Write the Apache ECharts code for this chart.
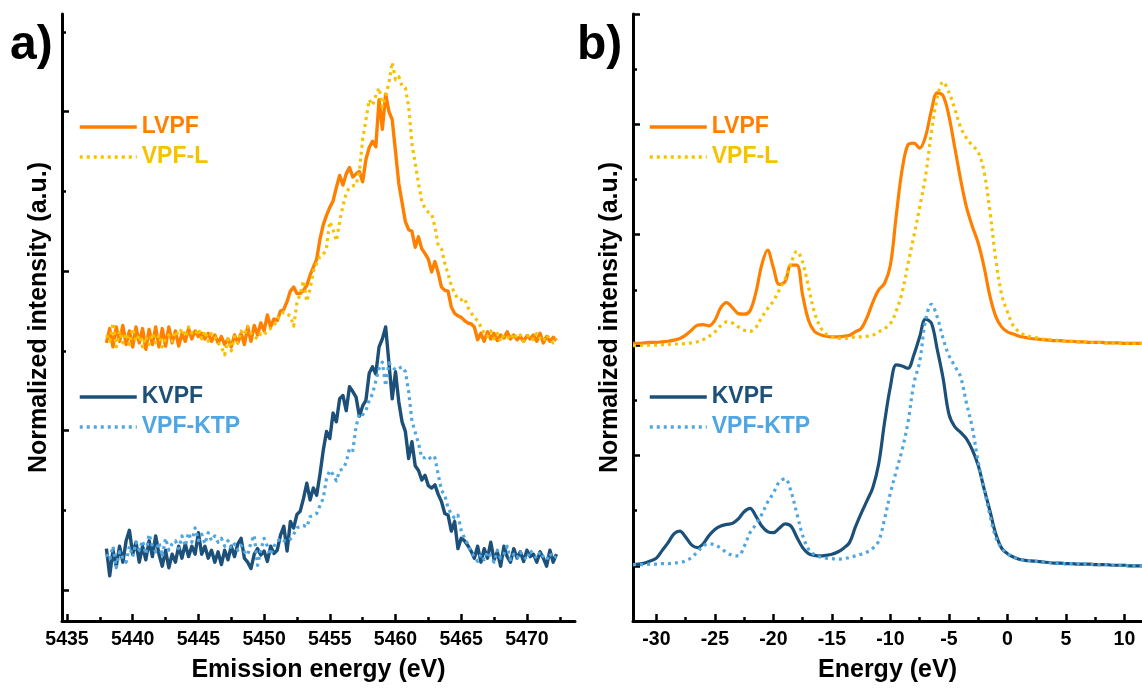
<!DOCTYPE html>
<html>
<head>
<meta charset="utf-8">
<script src="https://cdn.jsdelivr.net/npm/echarts@6/dist/echarts.min.js"></script>
<style>
html,body{margin:0;padding:0;background:#fff;}
#chart{width:1142px;height:688px;}
</style>
</head>
<body>
<div id="chart"></div>
<script>
// ---------- Panel a) : emission spectra (energy grid 5438.00 .. 5472.25, step 0.25 eV) ----------
const A_START = 5438.0;
const A_STEP = 0.25;
const A_LVPF = [
3.10,3.28,3.05,3.30, 3.12,3.32,3.08,3.25, 3.05,3.30,3.10,3.28, 3.02,3.27,3.08,3.30,
3.05,3.28,3.06,3.30, 3.10,3.25,3.06,3.22, 3.12,3.28,3.15,3.25, 3.18,3.22,3.15,3.22,
3.12,3.20,3.10,3.18, 3.08,3.15,3.05,3.20, 3.10,3.22,3.08,3.30, 3.12,3.32,3.20,3.35,
3.25,3.45,3.30,3.40, 3.38,3.50,3.52,3.62, 3.75,3.80,3.72,3.72, 3.76,3.82,3.95,4.05,
4.15,4.40,4.58,4.70, 4.80,4.88,5.05,5.20, 5.08,5.22,5.30,5.18, 5.22,5.25,5.12,5.40,
5.55,5.63,5.56,6.15, 5.78,6.22,6.00,5.90, 5.50,5.10,4.86,4.62, 4.52,4.50,4.30,4.43,
4.28,4.22,4.15,3.99, 4.12,3.98,3.80,3.76, 3.75,3.55,3.47,3.44, 3.42,3.38,3.35,3.34,
3.30,3.14,3.22,3.12, 3.24,3.15,3.22,3.13, 3.20,3.16,3.24,3.15, 3.20,3.14,3.18,3.12,
3.19,3.15,3.20,3.12, 3.22,3.10,3.18,3.12, 3.17,3.13
];
const A_VPFL = [
3.20,3.12,3.35,3.05, 3.25,3.10,3.22,3.08, 3.28,3.12,3.20,3.05, 3.18,3.08,3.22,3.10,
3.20,3.05,3.15,3.20, 3.12,3.25,3.20,3.28, 3.18,3.30,3.22,3.20, 3.28,3.15,3.25,3.12,
3.22,3.18,3.10,3.05, 2.95,3.15,3.00,3.18, 3.10,3.25,3.20,3.31, 3.22,3.18,3.15,3.22,
3.20,3.26,3.28,3.31, 3.40,3.45,3.49,3.46, 3.44,3.31,3.60,3.72, 3.88,3.62,3.78,4.00,
4.10,4.18,4.20,4.30, 4.62,4.52,4.38,4.62, 4.82,4.98,5.05,5.07, 5.08,5.25,5.65,5.90,
6.15,6.08,6.20,6.30, 6.06,6.20,6.36,6.62, 6.40,6.44,6.32,6.30, 6.06,5.60,5.35,5.10,
4.88,4.78,4.74,4.72, 4.56,4.32,4.28,4.10, 3.96,3.82,3.72,3.65, 3.64,3.66,3.55,3.48,
3.42,3.38,3.30,3.22, 3.18,3.25,3.15,3.22, 3.12,3.20,3.18,3.14, 3.22,3.16,3.20,3.12,
3.18,3.20,3.14,3.22, 3.16,3.12,3.20,3.15, 3.10,3.16
];
const A_KVPF = [
0.52,0.18,0.50,0.30, 0.55,0.35,0.62,0.75, 0.45,0.60,0.35,0.55, 0.38,0.62,0.42,0.68,
0.45,0.30,0.50,0.28, 0.45,0.35,0.55,0.40, 0.58,0.42,0.55,0.45, 0.72,0.45,0.55,0.40,
0.50,0.35,0.48,0.32, 0.50,0.38,0.55,0.42, 0.58,0.65,0.40,0.35, 0.27,0.45,0.52,0.44,
0.49,0.36,0.55,0.46, 0.50,0.69,0.80,0.49, 0.86,0.78,0.95,0.99, 1.15,1.34,1.13,1.28,
1.19,1.45,1.75,1.99, 1.90,2.22,2.11,2.40, 2.44,2.25,2.55,2.49, 2.42,2.18,2.31,2.38,
2.72,2.80,2.71,3.05, 3.15,3.30,2.85,2.40, 2.74,2.36,2.11,1.99, 1.65,1.86,1.56,1.50,
1.38,1.44,1.31,1.28, 1.32,1.20,1.11,0.96, 0.94,0.74,0.86,0.52, 0.65,0.62,0.56,0.49,
0.40,0.55,0.35,0.52, 0.40,0.60,0.38,0.48, 0.30,0.55,0.42,0.35, 0.52,0.40,0.48,0.36,
0.50,0.42,0.45,0.35, 0.48,0.40,0.30,0.50, 0.35,0.45
];
const A_VPFKTP = [
0.45,0.38,0.55,0.28, 0.48,0.40,0.35,0.55, 0.42,0.60,0.50,0.62, 0.45,0.70,0.55,0.48,
0.60,0.42,0.65,0.50, 0.58,0.62,0.52,0.68, 0.55,0.72,0.60,0.78, 0.62,0.70,0.58,0.72,
0.62,0.68,0.60,0.65, 0.55,0.62,0.52,0.58, 0.50,0.56,0.48,0.44, 0.60,0.69,0.31,0.50,
0.65,0.55,0.44,0.55, 0.61,0.65,0.62,0.61, 0.64,0.70,0.78,0.80, 0.81,0.79,0.92,0.94,
0.96,1.06,1.15,1.40, 1.50,1.45,1.37,1.50, 1.52,1.60,1.78,1.75, 2.05,2.22,2.20,2.25,
2.38,2.46,2.62,2.78, 2.86,2.56,2.85,2.80, 2.76,2.78,2.80,2.74, 2.49,2.12,1.98,1.84,
1.66,1.66,1.68,1.63, 1.66,1.45,1.25,1.19, 1.03,0.95,0.90,0.94, 0.75,0.65,0.58,0.48,
0.42,0.36,0.45,0.38, 0.48,0.42,0.35,0.50, 0.40,0.45,0.55,0.38, 0.45,0.40,0.48,0.42,
0.38,0.50,0.44,0.40, 0.48,0.42,0.38,0.46, 0.40,0.42
];

// ---------- Panel b) : calculated DOS (energy grid -32.0 .. 11.5, step 0.5 eV) ----------
const B_START = -32.0;
const B_STEP = 0.5;
const B_LVPF = [
4.03,4.03, 4.04,4.05, 4.05,4.06, 4.07,4.09, 4.12,4.18, 4.27,4.36, 4.37,4.35, 4.45,4.68,
4.77,4.68, 4.57,4.56, 4.62,4.95, 5.45,5.72, 5.40,5.10, 5.15,5.45, 5.45,4.90, 4.45,4.25,
4.19,4.16, 4.15,4.15, 4.16,4.18, 4.24,4.30, 4.50,4.78, 5.00,5.12, 5.45,6.35, 7.18,7.63,
7.66,7.57, 7.78,8.25, 8.57,8.52, 8.15,7.58, 7.00,6.50, 6.15,5.85, 5.42,4.89, 4.52,4.33,
4.24,4.20, 4.16,4.14, 4.12,4.11, 4.10,4.09, 4.08,4.08, 4.07,4.07, 4.06,4.06, 4.05,4.05,
4.05,4.04, 4.04,4.04, 4.03,4.03, 4.03,4.03
];
const B_VPFL = [
3.99,3.99, 4.00,4.00, 4.00,4.01, 4.01,4.02, 4.02,4.03, 4.04,4.06, 4.10,4.16, 4.24,4.35,
4.42,4.40, 4.33,4.27, 4.25,4.32, 4.50,4.66, 4.80,5.00, 5.20,5.48, 5.70,5.50, 5.05,4.60,
4.33,4.20, 4.15,4.12, 4.12,4.13, 4.15,4.15, 4.16,4.18, 4.24,4.30, 4.39,4.62, 4.95,5.47,
5.97,6.50, 7.06,7.85, 8.48,8.77, 8.58,8.28, 7.95,7.75, 7.62,7.50, 7.15,6.43, 5.56,4.92,
4.60,4.35, 4.24,4.18, 4.15,4.13, 4.11,4.10, 4.09,4.08, 4.07,4.07, 4.06,4.06, 4.05,4.05,
4.05,4.04, 4.04,4.04, 4.03,4.03, 4.03,4.03
];
const B_KVPF = [
0.02,0.03, 0.05,0.09, 0.14,0.28, 0.42,0.58, 0.63,0.52, 0.38,0.33, 0.40,0.55, 0.66,0.72,
0.75,0.77, 0.85,0.98, 1.04,0.90, 0.72,0.62, 0.60,0.68, 0.76,0.72, 0.52,0.33, 0.22,0.19,
0.18,0.19, 0.21,0.25, 0.32,0.42, 0.70,0.95, 1.18,1.42, 1.85,2.60, 3.25,3.64, 3.62,3.58,
3.82,4.15, 4.47,4.40, 3.92,3.40, 2.75,2.52, 2.42,2.30, 2.10,1.82, 1.40,1.00, 0.58,0.32,
0.22,0.16, 0.12,0.10, 0.09,0.08, 0.07,0.06, 0.05,0.05, 0.04,0.04, 0.03,0.03, 0.03,0.02,
0.02,0.02, 0.01,0.01, 0.01,0.00, 0.00,0.00
];
const B_VPFKTP = [
0.02,0.02, 0.02,0.03, 0.03,0.04, 0.04,0.05, 0.06,0.09, 0.15,0.25, 0.36,0.40, 0.38,0.32,
0.24,0.19, 0.18,0.35, 0.60,0.75, 0.93,1.15, 1.32,1.52, 1.58,1.35, 0.95,0.55, 0.30,0.20,
0.16,0.14, 0.13,0.12, 0.13,0.15, 0.18,0.21, 0.25,0.32, 0.45,0.85, 1.32,1.72, 2.10,2.60,
3.30,3.70, 4.45,4.74, 4.51,4.12, 3.81,3.62, 3.42,2.95, 2.50,1.88, 1.40,0.92, 0.52,0.32,
0.22,0.16, 0.12,0.10, 0.09,0.08, 0.07,0.06, 0.05,0.05, 0.04,0.04, 0.03,0.03, 0.03,0.02,
0.02,0.02, 0.01,0.01, 0.01,0.00, 0.00,0.00
];

// ---------- Axis tick values ----------
const A_X_MAJOR = [5435, 5440, 5445, 5450, 5455, 5460, 5465, 5470];
const A_X_MINOR = [5437.5, 5442.5, 5447.5, 5452.5, 5457.5, 5462.5, 5467.5, 5472.5];
const A_Y_MAJOR = [0, 2, 4, 6];
const A_Y_MINOR = [1, 3, 5, 7];
const B_X_MAJOR = [-30, -25, -20, -15, -10, -5, 0, 5, 10];
const B_X_MINOR = [-27.5, -22.5, -17.5, -12.5, -7.5, -2.5, 2.5, 7.5];
const B_Y_MAJOR = [0, 2, 4, 6, 8, 10];
const B_Y_MINOR = [1, 3, 5, 7, 9];

// ---------- Styling ----------
const FONT = "'Liberation Sans', Arial, Helvetica, sans-serif";
const C_LVPF = '#FF8000';
const C_VPFL = '#F5C200';
const C_KVPF = '#1C5078';
const C_KTP = '#4FA6E0';
const DOT = [3, 4];

function pairs(start, step, vals) {
  return vals.map((v, i) => [start + i * step, v]);
}

function xAxes(gridIndex, min, max, major, minor, name) {
  return [
    {
      type: 'value', gridIndex, min, max, position: 'bottom',
      name, nameLocation: 'middle', nameGap: 37,
      nameTextStyle: {fontFamily: FONT, fontSize: 25, fontWeight: 'bold', color: '#000'},
      axisLine: {show: true, onZero: false, lineStyle: {color: '#000', width: 3}},
      axisTick: {show: true, inside: true, length: 7, customValues: major, lineStyle: {color: '#000', width: 2.5}},
      axisLabel: {show: true, customValues: major, margin: 9, formatter: v => String(v),
        fontFamily: FONT, fontSize: 19.5, fontWeight: 'bold', color: '#000'},
      splitLine: {show: false}
    },
    {
      type: 'value', gridIndex, min, max, position: 'bottom',
      axisLine: {show: false, onZero: false},
      axisTick: {show: true, inside: true, length: 4, customValues: minor, lineStyle: {color: '#000', width: 2.5}},
      axisLabel: {show: false},
      splitLine: {show: false}
    }
  ];
}
function yAxes(gridIndex, min, max, major, minor) {
  return [
    {
      type: 'value', gridIndex, min, max, position: 'left',
      name: 'Normalized intensity (a.u.)', nameLocation: 'middle', nameGap: 10,
      nameTextStyle: {fontFamily: FONT, fontSize: 25, fontWeight: 'bold', color: '#000'},
      axisLine: {show: true, onZero: false, lineStyle: {color: '#000', width: 3}},
      axisTick: {show: true, inside: true, length: 7, customValues: major, lineStyle: {color: '#000', width: 2.5}},
      axisLabel: {show: false},
      splitLine: {show: false}
    },
    {
      type: 'value', gridIndex, min, max, position: 'left',
      axisLine: {show: false, onZero: false},
      axisTick: {show: true, inside: true, length: 4, customValues: minor, lineStyle: {color: '#000', width: 2.5}},
      axisLabel: {show: false},
      splitLine: {show: false}
    }
  ];
}
function line(name, data, xi, color, dotted, smooth, width) {
  return {
    type: 'line', name, data, xAxisIndex: xi, yAxisIndex: xi,
    showSymbol: false, symbol: 'none', smooth: smooth, animation: false,
    lineStyle: {color, width: width, type: dotted ? DOT : 'solid', join: 'round'},
    itemStyle: {color},
    z: dotted ? 3 : 2
  };
}
function legend(left, top, items) {
  return {
    orient: 'vertical', left, top, padding: 0, itemWidth: 57, itemHeight: 14, itemGap: 6,
    selectedMode: false,
    itemStyle: {opacity: 0},
    lineStyle: {width: 3.5},
    textStyle: {fontFamily: FONT, fontSize: 23, fontWeight: 'bold', lineHeight: 24},
    data: items.map(([n, c]) => ({name: n, textStyle: {color: c}}))
  };
}

const chart = echarts.init(document.getElementById('chart'), null, {renderer: 'canvas'});
chart.setOption({
  animation: false,
  backgroundColor: '#fff',
  grid: [
    {left: 62, top: 14, width: 513, height: 609},
    {left: 633, top: 14, width: 509, height: 609}
  ],
  xAxis: [
    ...xAxes(0, 5434.62, 5473.66, A_X_MAJOR, A_X_MINOR, 'Emission energy (eV)'),
    ...xAxes(1, -32, 11.5, B_X_MAJOR, B_X_MINOR, 'Energy (eV)')
  ],
  yAxis: [
    ...yAxes(0, -0.3875, 7.225, A_Y_MAJOR, A_Y_MINOR),
    ...yAxes(1, -1, 10, B_Y_MAJOR, B_Y_MINOR)
  ],
  legend: [
    legend(78, 115, [['LVPF', C_LVPF], ['VPF-L', C_VPFL]]),
    legend(78, 385, [['KVPF', C_KVPF], ['VPF-KTP', C_KTP]]),
    legend(648, 115, [['LVPF', C_LVPF], ['VPF-L', C_VPFL]]),
    legend(648, 385, [['KVPF', C_KVPF], ['VPF-KTP', C_KTP]])
  ],
  graphic: [
    {type: 'text', left: 10, top: 22, style: {text: 'a)', fill: '#000', fontSize: 48, fontWeight: 'bold', fontFamily: FONT}},
    {type: 'text', left: 577, top: 22, style: {text: 'b)', fill: '#000', fontSize: 48, fontWeight: 'bold', fontFamily: FONT}}
  ],
  series: [
    line('LVPF', pairs(A_START, A_STEP, A_LVPF), 0, C_LVPF, false, false, 3.4),
    line('VPF-L', pairs(A_START, A_STEP, A_VPFL), 0, C_VPFL, true, false, 3.2),
    line('KVPF', pairs(A_START, A_STEP, A_KVPF), 0, C_KVPF, false, false, 3.4),
    line('VPF-KTP', pairs(A_START, A_STEP, A_VPFKTP), 0, C_KTP, true, false, 3.2),
    line('LVPF', pairs(B_START, B_STEP, B_LVPF), 2, C_LVPF, false, 0.35, 3.2),
    line('VPF-L', pairs(B_START, B_STEP, B_VPFL), 2, C_VPFL, true, 0.35, 3.2),
    line('KVPF', pairs(B_START, B_STEP, B_KVPF), 2, C_KVPF, false, 0.35, 3.2),
    line('VPF-KTP', pairs(B_START, B_STEP, B_VPFKTP), 2, C_KTP, true, 0.35, 3.2)
  ]
});
</script>
</body>
</html>
